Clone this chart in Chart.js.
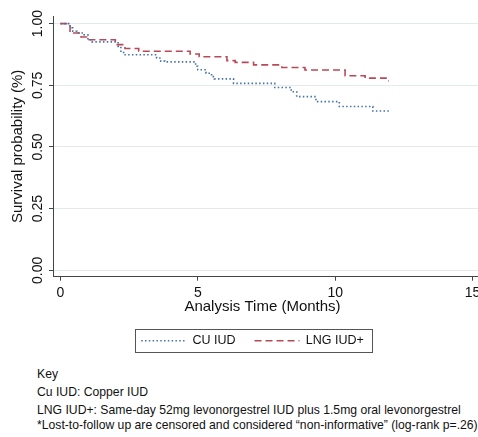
<!DOCTYPE html>
<html>
<head>
<meta charset="utf-8">
<script src="https://cdn.jsdelivr.net/npm/chart.js@4.4.1/dist/chart.umd.min.js"></script>
<style>
  body { margin: 0; width: 478px; height: 437px; overflow: hidden; background: #fff; position: relative;
         font-family: "Liberation Sans", Arial, sans-serif; }
  #wrap { position: absolute; left: 0; top: 0; width: 505px; height: 360px; }
  .note { position: absolute; left: 37px; font-size: 12.2px; line-height: 14px; color: #111; white-space: nowrap; }
</style>
</head>
<body>
<div id="wrap"><canvas id="km" width="505" height="360"></canvas></div>
<div class="note" style="top:367px">Key</div>
<div class="note" style="top:385px">Cu IUD: Copper IUD</div>
<div class="note" style="top:403px">LNG IUD+: Same-day 52mg levonorgestrel IUD plus 1.5mg oral levonorgestrel</div>
<div class="note" style="top:418px">*Lost-to-follow up are censored and considered “non-informative” (log-rank p=.26)</div>
<script>
// Kaplan-Meier 曲線 (讀自圖片)
const seriesLabels = ['CU IUD', 'LNG IUD+'];

const cuTime = [0, 0.35, 0.45, 0.6, 0.85, 1.0, 1.15, 2.1, 2.2, 2.3, 3.5, 3.65, 3.8, 4.92, 5.0, 5.3, 5.5, 5.6, 6.3, 7.8, 8.4, 8.6, 9.3, 10.15, 11.37, 12.0];
const cuSurv = [1, 0.983, 0.969, 0.962, 0.955, 0.935, 0.926, 0.908, 0.888, 0.874, 0.861, 0.848, 0.845, 0.827, 0.813, 0.799, 0.785, 0.776, 0.758, 0.741, 0.724, 0.704, 0.684, 0.664, 0.646, 0.646];

const lngTime = [0, 0.35, 0.75, 0.95, 2.0, 2.35, 2.85, 4.72, 5.05, 6.06, 6.36, 7.03, 8.06, 8.9, 10.36, 11.09, 11.85, 11.95];
const lngSurv = [1, 0.962, 0.946, 0.935, 0.915, 0.899, 0.888, 0.877, 0.866, 0.85, 0.843, 0.833, 0.822, 0.812, 0.789, 0.779, 0.768, 0.768];

const xTicks = [0, 5, 10, 15];
const yTicks = [0, 0.25, 0.5, 0.75, 1];
const xTitle = 'Analysis Time (Months)';
const yTitle = 'Survival probability (%)';

const AXIS = '#444';
const GRID = '#e2eaee';
const FONT = "'Liberation Sans', Arial, sans-serif";

const toPoints = (t, s) => t.map((x, i) => ({ x, y: s[i] }));

// legend 外框
const legendFrame = {
    id: 'legendFrame',
    afterDraw(chart) {
        const boxes = chart.legend.legendHitBoxes;
        if (!boxes || !boxes.length) return;
        const first = boxes[0], last = boxes[boxes.length - 1];
        const left = Math.round(first.left - 6);
        const right = Math.round(last.left + last.width + 8);
        const cy = first.top + first.height / 2;
        const ctx = chart.ctx;
        ctx.save();
        ctx.strokeStyle = '#555';
        ctx.lineWidth = 1;
        ctx.strokeRect(left + 0.5, Math.round(cy - 11.5) + 0.5, right - left, 23);
        ctx.restore();
    },
};

// x 軸標題 (Stata 置中位置)
const xAxisTitle = {
    id: 'xAxisTitle',
    afterDraw(chart) {
        const ctx = chart.ctx;
        ctx.save();
        ctx.font = `15px ${FONT}`;
        ctx.fillStyle = '#111';
        ctx.textAlign = 'center';
        ctx.textBaseline = 'middle';
        ctx.fillText(xTitle, 262.5, 307);
        ctx.restore();
    },
};

new Chart(document.getElementById('km').getContext('2d'), {
    type: 'line',
    data: {
        datasets: [
            {
                label: seriesLabels[0],
                data: toPoints(cuTime, cuSurv),
                stepped: 'before',
                borderColor: '#4671a6',
                backgroundColor: 'transparent',
                borderWidth: 1.6,
                borderDash: [1.5, 2.3],
                pointRadius: 0,
                fill: false,
            },
            {
                label: seriesLabels[1],
                data: toPoints(lngTime, lngSurv),
                stepped: 'before',
                borderColor: '#b84a58',
                backgroundColor: 'transparent',
                borderWidth: 1.6,
                borderDash: [7, 4],
                pointRadius: 0,
                fill: false,
            },
        ],
    },
    options: {
        responsive: false,
        devicePixelRatio: 1,
        animation: false,
        layout: { padding: { top: 16, bottom: 3, left: 0, right: 0 } },
        scales: {
            x: {
                type: 'linear',
                min: -0.27,
                max: 16.18,
                afterBuildTicks: (s) => { s.ticks = xTicks.map(v => ({ value: v })); },
                afterFit: (s) => { s.height = 38.8; },
                ticks: { color: '#111', font: { size: 14, family: FONT }, padding: 4, maxRotation: 0 },
                grid: { drawOnChartArea: false, tickColor: AXIS, tickLength: 4 },
                border: { color: AXIS, width: 1 },
            },
            y: {
                type: 'linear',
                min: -0.026,
                max: 1.031,
                afterBuildTicks: (s) => { s.ticks = yTicks.map(v => ({ value: v })); },
                afterFit: (s) => { s.width = 53; },
                ticks: {
                    color: '#111',
                    font: { size: 14, family: FONT },
                    minRotation: 90,
                    maxRotation: 90,
                    crossAlign: 'center',
                    padding: -2.7,
                    callback: (v) => Number(v).toFixed(2),
                },
                grid: { color: GRID, tickColor: AXIS, tickLength: 4 },
                border: { color: AXIS, width: 1 },
                title: {
                    display: true,
                    text: yTitle,
                    color: '#111',
                    font: { size: 15, family: FONT },
                    padding: { top: 9, bottom: 0 },
                },
            },
        },
        plugins: {
            legend: {
                position: 'bottom',
                labels: {
                    usePointStyle: true,
                    pointStyle: 'line',
                    pointStyleWidth: 45,
                    padding: 19,
                    color: '#111',
                    font: { size: 12.5, family: FONT },
                    // 線段樣式沿用 dataset 的 borderDash
                    generateLabels: (chart) => {
                        const items = Chart.defaults.plugins.legend.labels.generateLabels(chart);
                        items.forEach(item => {
                            const ds = chart.data.datasets[item.datasetIndex];
                            item.lineDash = ds.borderDash;
                            item.strokeStyle = ds.borderColor;
                            item.lineWidth = ds.borderWidth;
                        });
                        return items;
                    },
                },
            },
            tooltip: { enabled: false },
        },
    },
    plugins: [legendFrame, xAxisTitle],
});
</script>
</body>
</html>
